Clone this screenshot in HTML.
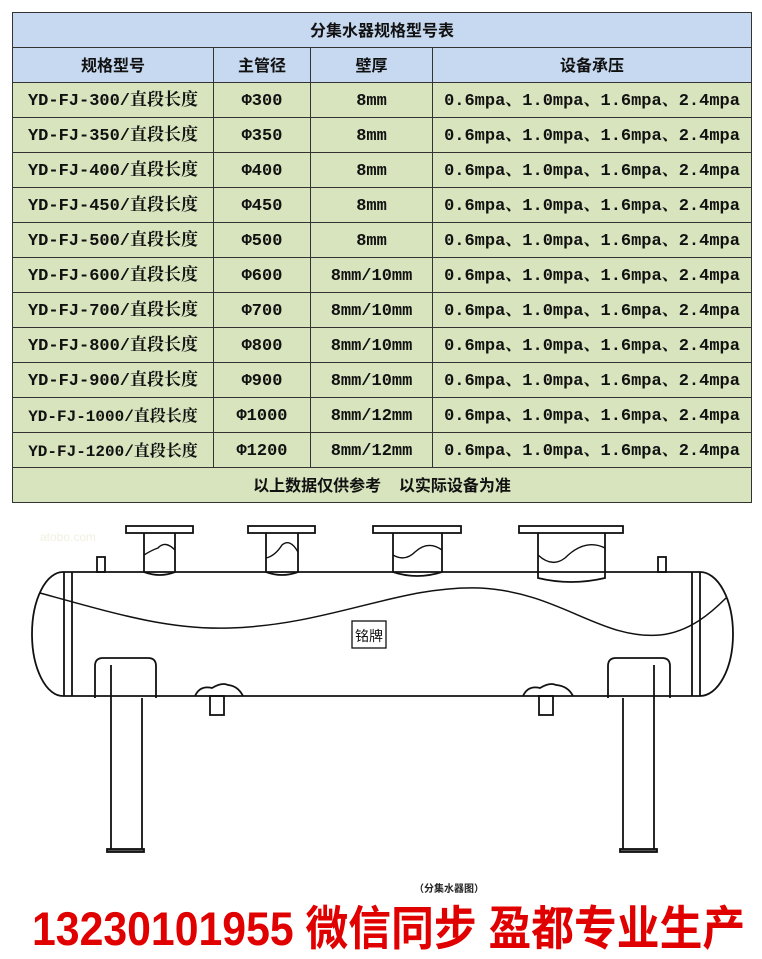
<!DOCTYPE html>
<html><head><meta charset="utf-8"><style>
body{margin:0;width:762px;height:959px;background:#fff;position:relative;overflow:hidden;font-family:"Liberation Sans","Noto Sans CJK SC",sans-serif}
table{position:absolute;left:12px;top:12px;border-collapse:collapse;width:739px;table-layout:fixed}
td{border:1px solid #333;height:35px;line-height:20px;vertical-align:middle;padding:3px 0 0 0;box-sizing:border-box;text-align:center;font-weight:bold;font-size:17px;font-family:"Liberation Mono","Noto Serif CJK SC",monospace;background:#d7e4bd;color:#111;white-space:nowrap;overflow:hidden}
tr.b td{background:#c6d9f0;font-family:"Liberation Sans","Noto Sans CJK SC",sans-serif;font-size:16px}
tr.f td{font-family:"Liberation Sans","Noto Sans CJK SC",sans-serif;font-size:16px}
.red{position:absolute;left:32px;top:901px;font-size:47px;line-height:56px;font-weight:bold;color:#e00000;font-family:"Liberation Sans","Noto Sans CJK SC",sans-serif;white-space:nowrap;transform:scaleX(0.91);transform-origin:0 0}
.cap{position:absolute;left:414px;top:880px;font-size:10px;font-weight:bold;color:#222;font-family:"Noto Sans CJK SC",sans-serif}
</style></head><body>
<table>
<colgroup><col style="width:201px"><col style="width:97px"><col style="width:122px"><col style="width:319px"></colgroup>
<tr class="b"><td colspan="4">分集水器规格型号表</td></tr>
<tr class="b"><td>规格型号</td><td>主管径</td><td>壁厚</td><td>设备承压</td></tr>
<tr><td>YD-FJ-300/直段长度</td><td>Φ300</td><td>8mm</td><td>0.6mpa、1.0mpa、1.6mpa、2.4mpa</td></tr>
<tr><td>YD-FJ-350/直段长度</td><td>Φ350</td><td>8mm</td><td>0.6mpa、1.0mpa、1.6mpa、2.4mpa</td></tr>
<tr><td>YD-FJ-400/直段长度</td><td>Φ400</td><td>8mm</td><td>0.6mpa、1.0mpa、1.6mpa、2.4mpa</td></tr>
<tr><td>YD-FJ-450/直段长度</td><td>Φ450</td><td>8mm</td><td>0.6mpa、1.0mpa、1.6mpa、2.4mpa</td></tr>
<tr><td>YD-FJ-500/直段长度</td><td>Φ500</td><td>8mm</td><td>0.6mpa、1.0mpa、1.6mpa、2.4mpa</td></tr>
<tr><td>YD-FJ-600/直段长度</td><td>Φ600</td><td>8mm/10mm</td><td>0.6mpa、1.0mpa、1.6mpa、2.4mpa</td></tr>
<tr><td>YD-FJ-700/直段长度</td><td>Φ700</td><td>8mm/10mm</td><td>0.6mpa、1.0mpa、1.6mpa、2.4mpa</td></tr>
<tr><td>YD-FJ-800/直段长度</td><td>Φ800</td><td>8mm/10mm</td><td>0.6mpa、1.0mpa、1.6mpa、2.4mpa</td></tr>
<tr><td>YD-FJ-900/直段长度</td><td>Φ900</td><td>8mm/10mm</td><td>0.6mpa、1.0mpa、1.6mpa、2.4mpa</td></tr>
<tr><td style="font-size:16px">YD-FJ-1000/直段长度</td><td>Φ1000</td><td>8mm/12mm</td><td>0.6mpa、1.0mpa、1.6mpa、2.4mpa</td></tr>
<tr><td style="font-size:16px">YD-FJ-1200/直段长度</td><td>Φ1200</td><td>8mm/12mm</td><td>0.6mpa、1.0mpa、1.6mpa、2.4mpa</td></tr>
<tr class="f"><td colspan="4">以上数据仅供参考&nbsp;&nbsp;&nbsp;&nbsp;以实际设备为准</td></tr>
</table>
<svg width="762" height="959" style="position:absolute;left:0;top:0" fill="none" stroke="#111" stroke-width="1.8">
<text x="40" y="541" font-size="12" fill="#f0f0e0" stroke="none" font-family="Liberation Sans">atobo.com</text>
<line x1="63" y1="572" x2="700" y2="572"/>
<line x1="63" y1="696" x2="700" y2="696"/>
<path d="M63,572 A31,62 0 0 0 63,696"/>
<path d="M700,572 A33,62 0 0 1 700,696"/>
<line x1="64" y1="572" x2="64" y2="696"/><line x1="72" y1="572" x2="72" y2="696"/>
<line x1="692" y1="572" x2="692" y2="696"/><line x1="700" y1="572" x2="700" y2="696"/>
<path d="M40,593 C120,615 170,630 230,628 C330,625 400,585 480,588 C560,592 600,640 660,635 C690,632 712,612 726,598" stroke-width="1.5"/>
<rect x="97" y="557" width="8" height="15"/><rect x="658" y="557" width="8" height="15"/>
<g>
<rect x="126" y="526" width="67" height="7"/>
<path d="M144,533 V572 Q160,578 175,572 V533"/>
<path d="M144,555 Q152,550 158,548 Q165,540 175,550" stroke-width="1.4"/>
<rect x="248" y="526" width="67" height="7"/>
<path d="M266,533 V572 Q282,578 298,572 V533"/>
<path d="M266,558 Q275,556 282,545 Q290,538 298,552" stroke-width="1.4"/>
<rect x="373" y="526" width="88" height="7"/>
<path d="M393,533 V572 Q417,580 442,572 V533"/>
<path d="M393,555 Q405,562 415,552 Q428,540 442,550" stroke-width="1.4"/>
<rect x="519" y="526" width="104" height="7"/>
<path d="M538,533 V578 Q571,586 605,578 V533"/>
<path d="M538,555 Q552,568 565,558 Q585,538 605,548" stroke-width="1.4"/>
</g>
<rect x="352" y="621" width="34" height="27" stroke-width="1.3"/>
<text x="355" y="641" font-size="14" fill="#111" stroke="none" font-family="Noto Sans CJK SC">铭牌</text>
<path d="M195,696 Q200,685 212,688 Q222,682 228,685 Q238,686 243,696"/>
<rect x="210" y="696" width="14" height="19"/>
<path d="M523,696 Q528,685 540,688 Q550,682 556,685 Q568,686 573,696"/>
<rect x="539" y="696" width="14" height="19"/>
<path d="M95,698 V666 Q95,658 103,658 H148 Q156,658 156,666 V698"/>
<path d="M608,698 V666 Q608,658 616,658 H662 Q670,658 670,666 V698"/>
<line x1="111" y1="665" x2="111" y2="849"/><line x1="142" y1="698" x2="142" y2="849"/>
<line x1="623" y1="698" x2="623" y2="849"/><line x1="654" y1="665" x2="654" y2="849"/>
<rect x="107" y="849" width="37" height="3" fill="#555"/>
<rect x="620" y="849" width="37" height="3" fill="#555"/>
</svg>
<div class="cap">（分集水器图）</div>
<div class="red">13230101955 微信同步 盈都专业生产</div>
</body></html>
